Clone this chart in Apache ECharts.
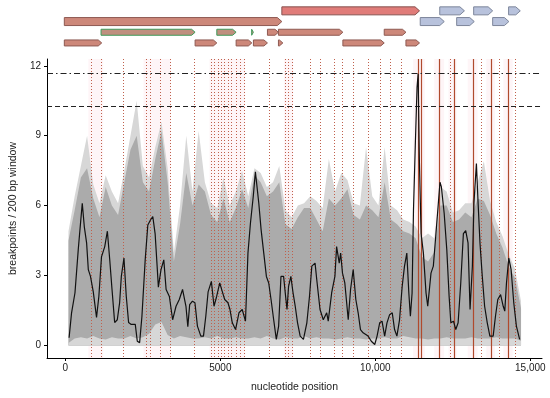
<!DOCTYPE html>
<html><head><meta charset="utf-8">
<script src="https://cdn.jsdelivr.net/npm/echarts@6/dist/echarts.min.js"></script>
<style>html,body{margin:0;padding:0;background:#fff}#c{width:550px;height:398px}</style>
</head><body><div id="c"></div>
<script>
// ---- axis ticks ----
const xTickValues = [0, 5000, 10000, 15000];
const xTickLabels = ['0', '5000', '10,000', '15,000'];
const yTickValues = [0, 3, 6, 9, 12];
const yTickLabels = ['0', '3', '6', '9', '12'];

// ---- black breakpoint line ----
const lineX = [120,200,310,415,470,545,610,685,740,810,900,1005,1080,1165,1270,1355,1430,1505,1590,1675,
  1750,1805,1890,1965,2040,2125,2255,2320,2395,2470,2575,2660,2745,2820,2895,2960,3000,3085,3175,3250,
  3355,3460,3570,3675,3780,3890,3950,4010,4100,4180,4260,4370,4455,4530,4605,4710,4795,4880,4980,5065,
  5140,5245,5310,5385,5490,5600,5705,5810,5890,5970,6060,6130,6185,6240,6315,6400,6485,6560,6635,6720,
  6805,6880,6955,7040,7105,7150,7200,7275,7340,7415,7490,7575,7680,7790,7875,7950,8055,8110,8215,8320,
  8430,8480,8590,8695,8750,8835,8880,8940,9015,9125,9200,9285,9370,9445,9520,9605,9765,9870,9980,10055,
  10140,10215,10300,10375,10460,10545,10620,10695,10780,10865,10940,11015,11080,11130,11185,11230,11290,11345,11380,11420,
  11475,11550,11635,11690,11795,11870,11955,12040,12085,12130,12220,12305,12380,12435,12520,12595,12670,12755,12840,12915,
  12990,13055,13130,13180,13260,13310,13375,13450,13525,13610,13695,13800,13875,13950,14040,14125,14175,14230,14305,14380,
  14465,14550,14655];
const lineY = [0.33,1.4,2.26,4.1,4.96,6.1,5.1,4.4,3.25,2.96,2.3,1.2,2.1,3.8,4.24,4.9,3.7,2.4,0.98,1.1,
  1.83,2.96,3.75,2.1,0.98,0.9,0.9,0.18,0.12,1.25,3.67,5.17,5.38,5.53,4.8,3.4,2.5,3.25,3.67,2.4,
  2.1,1.1,1.68,1.97,2.4,1.68,0.8,1.75,1.9,1.83,0.83,0.4,0.4,1.25,2.3,2.75,1.68,2.1,2.68,2.3,
  1.97,1.83,1.54,0.97,0.68,1.4,1.54,1.04,3.96,5.24,6.38,7.45,7.38,6.1,4.96,3.96,2.96,2.68,1.97,1.1,
  0.26,0.83,2.96,2.96,2.1,1.54,2.53,2.96,2.3,1.68,0.97,0.4,0.26,0.97,2.1,3.4,3.53,2.82,1.54,1.1,
  1.4,1.04,2.25,2.96,4.24,3.53,3.96,3.1,2.68,1.1,2.4,3.25,1.97,1.4,0.68,0.54,0.4,0.18,0.04,0.4,
  0.97,1.04,0.4,0.97,1.32,1.4,0.68,0.4,1.1,2.53,3.4,3.96,2.25,1.25,2.25,5.8,8.66,11.08,11.65,7.95,
  4.8,3.96,2.25,1.68,3.1,3.4,4.8,6.24,7.0,6.8,5.67,4.1,2.1,0.97,1.04,0.68,0.97,2.68,4.8,4.93,
  4.4,1.54,3.4,6.1,7.8,6.24,4.4,2.96,1.68,0.97,0.4,0.4,1.25,1.97,2.18,1.68,1.47,2.68,3.75,3.25,
  1.83,0.83,0.26];

// ---- grey ribbons ----
const bandX = [100,300,500,700,900,1100,1300,1500,1700,1900,
  2100,2300,2500,2700,2900,3100,3300,3500,3700,3900,
  4100,4300,4500,4700,4900,5100,5300,5500,5700,5900,
  6100,6300,6500,6700,6900,7100,7300,7500,7700,7900,
  8100,8300,8500,8700,8900,9100,9300,9500,9700,9900,
  10100,10300,10500,10700,10900,11100,11300,11500,11700,11900,
  12100,12300,12500,12700,12900,13100,13300,13500,13700,13900,
  14100,14300,14500,14700];
const darkUpper = [4.5,5.8,7.2,7.6,6.3,5.5,6.8,6.0,5.6,7.0,
  8.4,9.0,7.0,6.6,8.0,9.2,7.0,3.6,5.2,7.4,
  6.0,6.9,6.6,5.6,5.3,6.3,5.3,5.9,6.7,5.9,
  7.3,7.0,6.4,6.6,7.0,5.2,5.0,5.5,5.9,5.9,
  5.4,4.9,6.3,6.0,6.3,6.7,5.6,5.4,6.0,5.8,
  5.5,7.0,5.4,5.2,4.9,4.8,4.6,3.8,3.6,4.0,
  6.0,6.0,5.3,5.4,5.7,5.5,6.3,6.2,5.6,4.8,
  4.2,3.4,2.9,1.6];
const lightUpper = [4.9,6.4,7.7,9.0,6.9,6.1,7.3,6.6,6.1,7.5,
  9.0,10.5,7.7,7.2,8.5,9.6,7.6,4.0,6.0,9.0,
  6.6,9.2,7.0,6.1,5.9,7.2,6.0,6.6,7.5,6.4,
  7.6,7.4,6.8,7.0,7.7,5.8,5.5,6.0,6.1,6.4,
  6.2,5.9,8.0,6.6,7.4,7.1,6.1,6.0,8.5,6.4,
  6.0,8.5,6.0,5.8,5.4,5.3,5.1,4.6,4.8,4.6,
  6.8,6.6,5.7,5.8,6.1,6.1,7.0,7.9,6.2,5.3,
  4.7,3.9,3.3,1.9];
const darkLower = [0.1,0.3,0.35,0.3,0.4,0.3,0.25,0.35,0.3,0.3,
  0.4,0.3,0.35,0.5,0.9,1.0,0.45,0.3,0.4,0.35,
  0.3,0.3,0.35,0.3,0.4,0.3,0.3,0.35,0.3,0.3,
  0.35,0.3,0.4,0.3,0.25,0.35,0.3,0.3,0.4,0.3,
  0.35,0.3,0.3,0.25,0.3,0.35,0.3,0.3,0.25,0.3,
  0.3,0.35,0.3,0.3,0.4,0.35,0.3,0.3,0.25,0.3,
  0.3,0.35,0.3,0.3,0.3,0.35,0.3,0.3,0.3,0.35,
  0.3,0.3,0.3,0.2];

// ---- reference lines ----
const dottedX = [826,1153,1851,2600,2728,3067,3369,4147,4701,4809,4915,5021,5130,5236,5341,5501,5620,5770,
  6571,7083,7198,7317,7903,8223,8652,8918,9292,9773,10144,10464,10839,12417,13401,13999,14489];
const solidX = [11377,11457,12065,12545,13135,13743,14275];
const shadedRanges = [[740,1220],[2520,3400],[4650,5800],[7050,7350],
  [11220,11600],[11900,12220],[12360,12620],[12980,13300],[13580,13860],[14130,14430]];
const thresholdDashDot = 11.69;
const thresholdDashed = 10.26;

// ---- genome map: [start, end, track] ----
const genesRed = [[7051,11457,0]];
const genesBrown = [[90,7051,1],[6590,6942,2],[6942,9004,2],[10327,11022,2],
  [90,1287,3],[4275,4970,3],[5588,6090,3],[6141,6590,3],[6942,7083,3],[9004,10327,3],[11022,11457,3]];
const genesGreen = [[1265,4275,2],[4970,5587,2],[6085,6140,2]];
const genesBlue = [[12104,12894,0],[13189,13797,0],[14307,14681,0],
  [11479,12248,1],[12645,13208,1],[13797,14316,1]];
const trackNames = ['t1','t2','t3','t4'];

const X_MIN = -592, X_MAX = 15376, Y_MIN = -0.54, Y_MAX = 12.29;
const FONT = "'Liberation Sans', Arial, sans-serif";

function arrowSeries(data, fill, stroke) {
  return {
    type: 'custom', xAxisIndex: 1, yAxisIndex: 1, silent: true,
    data: data, encode: {x: [0, 1], y: 2},
    renderItem: function (params, api) {
      const row = api.value(2);
      const p0 = api.coord([api.value(0), row]);
      const p1 = api.coord([api.value(1), row]);
      const h = row < 2 ? 8 : 6;
      const tip = Math.min(row < 2 ? 4.5 : 3.5, p1[0] - p0[0]);
      const y = p0[1];
      const pts = [[p0[0], y - h / 2], [p1[0] - tip, y - h / 2], [p1[0], y],
                   [p1[0] - tip, y + h / 2], [p0[0], y + h / 2]];
      return {type: 'polygon', shape: {points: pts},
              style: {fill: fill, stroke: stroke, lineWidth: 1}};
    }
  };
}

function vlineSeries(xs, color, dash, width) {
  return {
    type: 'custom', xAxisIndex: 0, yAxisIndex: 0, silent: true, z: 3,
    data: xs.map(v => [v]), encode: {x: 0},
    renderItem: function (params, api) {
      const cs = params.coordSys;
      const p = api.coord([api.value(0), 0]);
      const x = Math.round(p[0]) + 0.5;
      return {type: 'line', shape: {x1: x, y1: cs.y, x2: x, y2: cs.y + cs.height},
              style: {stroke: color, lineWidth: width, lineDash: dash}};
    }
  };
}

const pairs = (xs, ys) => xs.map((x, i) => [x, ys[i]]);
const areaSeries = (ys, color) => ({
  type: 'line', data: pairs(bandX, ys), showSymbol: false, silent: true,
  lineStyle: {width: 0}, areaStyle: {color: color, opacity: 1}, z: 2
});

const lowerSeries = areaSeries(darkLower, '#d7d7d7');
lowerSeries.markLine = {silent: true, symbol: ['none', 'none'], label: {show: false}, animation: false,
  data: [
    {yAxis: thresholdDashDot, lineStyle: {type: [6, 3, 1.5, 3], color: '#222', width: 1}},
    {yAxis: thresholdDashed, lineStyle: {type: [5, 3], color: '#222', width: 1}}
  ]};
lowerSeries.markArea = {silent: true, animation: false, itemStyle: {color: 'rgba(240,140,165,0.09)'},
  data: shadedRanges.map(r => [{xAxis: r[0]}, {xAxis: r[1]}])};

const option = {
  animation: false,
  grid: [
    {left: 43, right: 8, top: 59, bottom: 39},
    {left: 43, right: 8, top: 5.5, height: 42.8}
  ],
  xAxis: [
    {type: 'value', min: X_MIN, max: X_MAX, gridIndex: 0,
     splitLine: {show: false},
     axisLine: {show: true, onZero: false, lineStyle: {color: '#000', width: 1}},
     axisTick: {show: true, length: 3, customValues: xTickValues, lineStyle: {color: '#000'}},
     axisLabel: {customValues: xTickValues, margin: 5, fontSize: 10, color: '#222', fontFamily: FONT,
       formatter: v => xTickLabels[xTickValues.indexOf(v)]},
     name: 'nucleotide position', nameLocation: 'middle', nameGap: 24,
     nameTextStyle: {fontSize: 10.5, color: '#222', fontFamily: FONT}},
    {type: 'value', min: X_MIN, max: X_MAX, gridIndex: 1, show: false}
  ],
  yAxis: [
    {type: 'value', min: Y_MIN, max: Y_MAX, gridIndex: 0,
     splitLine: {show: false},
     axisLine: {show: true, onZero: false, lineStyle: {color: '#000', width: 1}},
     axisTick: {show: true, length: 3, customValues: yTickValues, lineStyle: {color: '#000'}},
     axisLabel: {customValues: yTickValues, margin: 6, fontSize: 10, color: '#222', fontFamily: FONT,
       formatter: v => yTickLabels[yTickValues.indexOf(v)]},
     name: 'breakpoints / 200 bp window', nameLocation: 'middle', nameGap: 26, nameRotate: 90,
     nameTextStyle: {fontSize: 10.5, color: '#222', fontFamily: FONT}},
    {type: 'category', data: trackNames, inverse: true, gridIndex: 1, show: false}
  ],
  series: [
    areaSeries(lightUpper, '#d7d7d7'),
    areaSeries(darkUpper, '#ababab'),
    lowerSeries,
    vlineSeries(dottedX, '#c0604c', [1, 2], 1),
    vlineSeries(solidX, '#b04a2d', null, 1.2),
    {type: 'line', data: pairs(lineX, lineY), showSymbol: false, silent: true, z: 5,
     lineStyle: {color: '#111', width: 1.2}},
    arrowSeries(genesRed, '#e07c79', '#87514f'),
    arrowSeries(genesBrown, '#cd887a', '#8e5a52'),
    arrowSeries(genesGreen, '#bf8f7e', '#3f9a59'),
    arrowSeries(genesBlue, '#b8c2dc', '#7d869b')
  ]
};
const chart = echarts.init(document.getElementById('c'));
chart.setOption(option);
</script>
</body></html>
